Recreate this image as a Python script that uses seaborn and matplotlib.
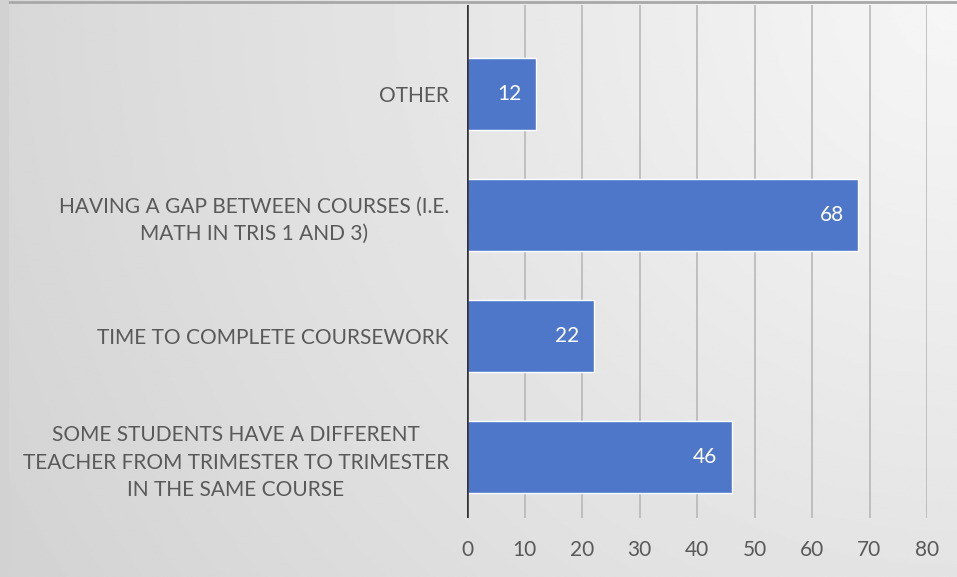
import numpy as np
import pandas as pd
import seaborn as sns
import matplotlib.pyplot as plt

categories = [
    "OTHER",
    "HAVING A GAP BETWEEN COURSES (I.E.\nMATH IN TRIS 1 AND 3)",
    "TIME TO COMPLETE COURSEWORK",
    "SOME STUDENTS HAVE A DIFFERENT\nTEACHER FROM TRIMESTER TO TRIMESTER\nIN THE SAME COURSE",
]
values = [12, 68, 22, 46]
x_ticks = [0, 10, 20, 30, 40, 50, 60, 70, 80]

df = pd.DataFrame({"reason": categories, "count": values})

sns.set_style("white")
plt.rcParams["font.family"] = ["Lato", "DejaVu Sans"]
text_col = "#595959"
bar_col = "#4f77c9"

fig = plt.figure(figsize=(9.57, 5.77), dpi=100)

# gradient backdrop (light top-right, darker toward bottom-left)
bg = fig.add_axes([0, 0, 1, 1])
xx, yy = np.meshgrid(np.linspace(0, 1, 400), np.linspace(0, 1, 240))
d = np.sqrt((1 - xx) ** 2 + (0.6 * yy) ** 2)
shade = 0.965 - 0.12 * d
bg.imshow(shade, cmap="gray", vmin=0, vmax=1, aspect="auto", extent=[0, 1, 1, 0])
bg.set_xlim(0, 1)
bg.set_ylim(1, 0)
bg.axis("off")
# thin image edge at top and left
bg.plot([0, 1], [0.997, 0.997], color="#a8a8a8", lw=2, transform=bg.transAxes)
bg.plot([0.004, 0.004], [0, 1], color="#d2d2d2", lw=7, transform=bg.transAxes)

ax = fig.add_axes([467 / 957, 1 - 518 / 577, 460 / 957, 513 / 577])
ax.patch.set_alpha(0)
sns.barplot(data=df, x="count", y="reason", color=bar_col, saturation=1,
            width=0.59, ax=ax, zorder=3)

ax.set_xlim(0, 80)
ax.set_ylim(3.504, -0.736)
ax.set_xticks(x_ticks)
ax.grid(axis="x", color="#b4b4b4", linewidth=1.1, zorder=0)
ax.set_axisbelow(True)
ax.axvline(0, color="#333333", lw=2.6, zorder=4)
for s in ax.spines.values():
    s.set_visible(False)

ax.set_xlabel("")
ax.set_ylabel("")
ax.tick_params(axis="x", length=0, pad=16, labelsize=15, labelcolor=text_col)
ax.tick_params(axis="y", length=0, pad=13, labelsize=15, labelcolor=text_col)
for lab in ax.get_yticklabels():
    lab.set_multialignment("center")
    lab.set_linespacing(1.45)

for i, v in enumerate(values):
    ax.text(v - 2.5, i, str(v), color="white", fontsize=15,
            ha="right", va="center", zorder=5)

fig.savefig("out.png", dpi=100)
